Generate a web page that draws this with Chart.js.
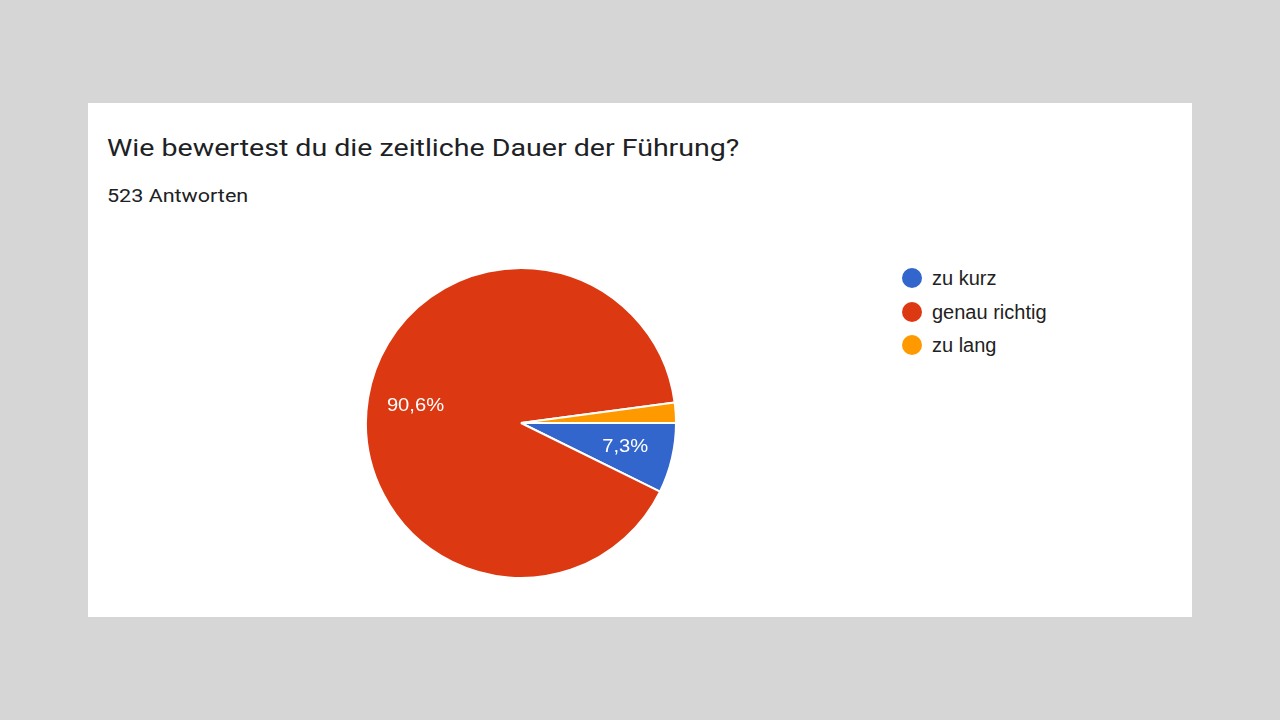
<!DOCTYPE html>
<html>
<head>
<meta charset="utf-8">
<script src="https://cdn.jsdelivr.net/npm/chart.js@4"></script>
<style>
  html, body { margin: 0; padding: 0; width: 1280px; height: 720px; background: #d6d6d6; overflow: hidden; }
  #card { position: absolute; left: 88px; top: 103px; width: 1104px; height: 514px; background: #ffffff; }
  #title { position: absolute; left: 19px; top: 31px; font-family: Roboto, Arial, sans-serif; font-size: 24px; line-height: normal; color: #202124; white-space: nowrap; transform: scaleX(1.19); transform-origin: 0 0; }
  #sub { position: absolute; left: 19px; top: 83px; font-family: Roboto, Arial, sans-serif; font-size: 17.5px; line-height: normal; color: #202124; white-space: nowrap; transform: scaleX(1.23); transform-origin: 0 0; }
  #pieBox { position: absolute; left: 277px; top: 164px; width: 312px; height: 312px; }
  #legend { position: absolute; left: 814px; top: 162px; font-family: Arial, "Liberation Sans", sans-serif; font-size: 20px; color: #222222; }
  .item { position: relative; height: 33.5px; line-height: 26px; padding-left: 30px; white-space: nowrap; }
  .dot { position: absolute; left: 0; top: 3px; width: 20px; height: 20px; border-radius: 50%; }
</style>
</head>
<body>
<div id="card">
  <div id="title">Wie bewertest du die zeitliche Dauer der Führung?</div>
  <div id="sub">523 Antworten</div>
  <div id="pieBox"><canvas id="c"></canvas></div>
  <div id="legend"></div>
</div>
<script>
const categories = ["zu kurz", "genau richtig", "zu lang"];
const values = [7.3, 90.6, 2.1];
const labelsText = ["7,3%", "90,6%", ""];
const colors = ["#3366cc", "#dc3912", "#ff9900"];

const legend = document.getElementById('legend');
categories.forEach((c, i) => {
  const d = document.createElement('div');
  d.className = 'item';
  d.innerHTML = '<span class="dot" style="background:' + colors[i] + '"></span>' + c;
  legend.appendChild(d);
});

const sliceLabels = {
  id: 'sliceLabels',
  afterDatasetsDraw(chart) {
    const ctx = chart.ctx;
    const meta = chart.getDatasetMeta(0);
    meta.data.forEach((arc, i) => {
      const t = labelsText[i];
      if (!t) return;
      const p = arc.getProps(['x', 'y', 'startAngle', 'endAngle', 'outerRadius'], true);
      const mid = (p.startAngle + p.endAngle) / 2;
      const r = p.outerRadius * 0.69;
      ctx.save();
      ctx.translate(p.x + Math.cos(mid) * r, p.y + Math.sin(mid) * r);
      ctx.scale(1.12, 1);
      ctx.fillStyle = '#ffffff';
      ctx.font = '18px Arial, "Liberation Sans", sans-serif';
      ctx.textAlign = 'center';
      ctx.textBaseline = 'middle';
      ctx.fillText(t, 0, 0);
      ctx.restore();
    });
  }
};

new Chart(document.getElementById('c'), {
  type: 'pie',
  data: {
    labels: categories,
    datasets: [{
      data: values,
      backgroundColor: colors,
      borderColor: '#ffffff',
      borderWidth: 2
    }]
  },
  options: {
    responsive: true,
    maintainAspectRatio: false,
    animation: false,
    rotation: 90,
    layout: { padding: 0 },
    plugins: {
      legend: { display: false },
      tooltip: { enabled: false }
    }
  },
  plugins: [sliceLabels]
});
</script>
</body>
</html>
